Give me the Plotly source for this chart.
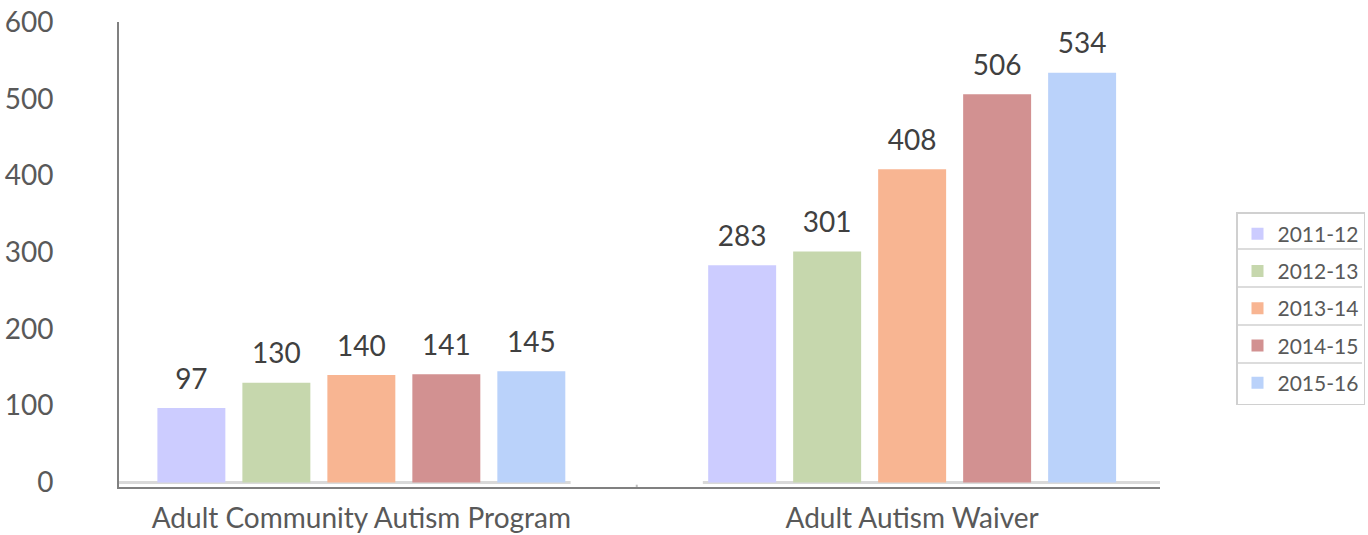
import plotly.graph_objects as go

categories = ["Adult Community Autism Program", "Adult Autism Waiver"]
years = ["2011-12", "2012-13", "2013-14", "2014-15", "2015-16"]
values = {
    "2011-12": [97, 283],
    "2012-13": [130, 301],
    "2013-14": [140, 408],
    "2014-15": [141, 506],
    "2015-16": [145, 534],
}
colors = ["#ccccff", "#c6d7ad", "#f8b592", "#d29191", "#bad2fa"]
y_ticks = [0, 100, 200, 300, 400, 500, 600]

FONT = "Lato"
slot = 0.1543
bar_w = 0.1234
cat_pos = list(range(len(categories)))

fig = go.Figure()
for i, yr in enumerate(years):
    xs = [c + (i - 2) * slot for c in cat_pos]
    fig.add_trace(go.Bar(
        x=xs, y=values[yr], width=bar_w, name=yr,
        marker=dict(color=colors[i], line=dict(width=0)),
        legendgroup=yr, hoverinfo="y",
    ))
for i, yr in enumerate(years):
    xs = [c + (i - 2) * slot for c in cat_pos]
    fig.add_trace(go.Scatter(
        x=xs, y=values[yr], mode="markers+text", text=[str(v) for v in values[yr]],
        textposition="top center", marker=dict(size=18, color="rgba(0,0,0,0)"),
        textfont=dict(family=FONT, size=28, color="#404040"),
        showlegend=False, hoverinfo="skip", cliponaxis=False,
    ))

# light baseline under bar groups and small center tick
for x0, x1 in [(-0.45, 0.38), (0.62, 1.45)]:
    fig.add_shape(type="line", x0=x0, x1=x1, y0=0, y1=0, xref="x", yref="y",
                  line=dict(color="#d9d9d9", width=3), layer="below")
fig.add_shape(type="line", x0=0.5, x1=0.5, y0=-3, y1=-12, xref="x", yref="y",
              line=dict(color="#c0c0c0", width=2))

# legend cell separators (paper coordinates)
plot_top, plot_h, plot_l, plot_w = 22, 465, 119, 1041
lx0, lx1 = (1236 - plot_l) / plot_w, (1362 - plot_l) / plot_w
for py in [249, 287, 325, 363]:
    yp = (plot_top + plot_h - py) / plot_h
    fig.add_shape(type="line", xref="paper", yref="paper", x0=lx0, x1=lx1, y0=yp, y1=yp,
                  line=dict(color="#d0d0d0", width=1.5))

fig.update_layout(
    width=1368, height=535,
    margin=dict(l=119, r=208, t=22, b=48, autoexpand=False),
    plot_bgcolor="white", paper_bgcolor="white",
    barmode="overlay",
    showlegend=True,
    legend=dict(x=lx0, y=(plot_top + plot_h - 212) / plot_h, xanchor="left", yanchor="top",
                font=dict(family=FONT, size=21, color="#595959"),
                bgcolor="rgba(0,0,0,0)",
                bordercolor="#d0d0d0", borderwidth=1.5,
                traceorder="grouped", tracegroupgap=7, itemclick=False),
    xaxis=dict(range=[-0.44, 1.45], tickvals=cat_pos, ticktext=categories,
               showgrid=False, zeroline=False, showline=True, linecolor="#808080",
               linewidth=2, ticks="", ticklabelstandoff=5, automargin=False,
               tickfont=dict(family=FONT, size=28, color="#595959")),
    yaxis=dict(range=[-6, 600], tickvals=y_ticks, showgrid=False, zeroline=False,
               showline=True, linecolor="#808080", linewidth=2, ticks="",
               ticklabelstandoff=58, automargin=False,
               tickfont=dict(family=FONT, size=28, color="#595959")),
)

fig.write_html("out.html", config={"displayModeBar": False},
               post_script="document.body.style.margin='0';document.body.style.overflow='hidden';")
